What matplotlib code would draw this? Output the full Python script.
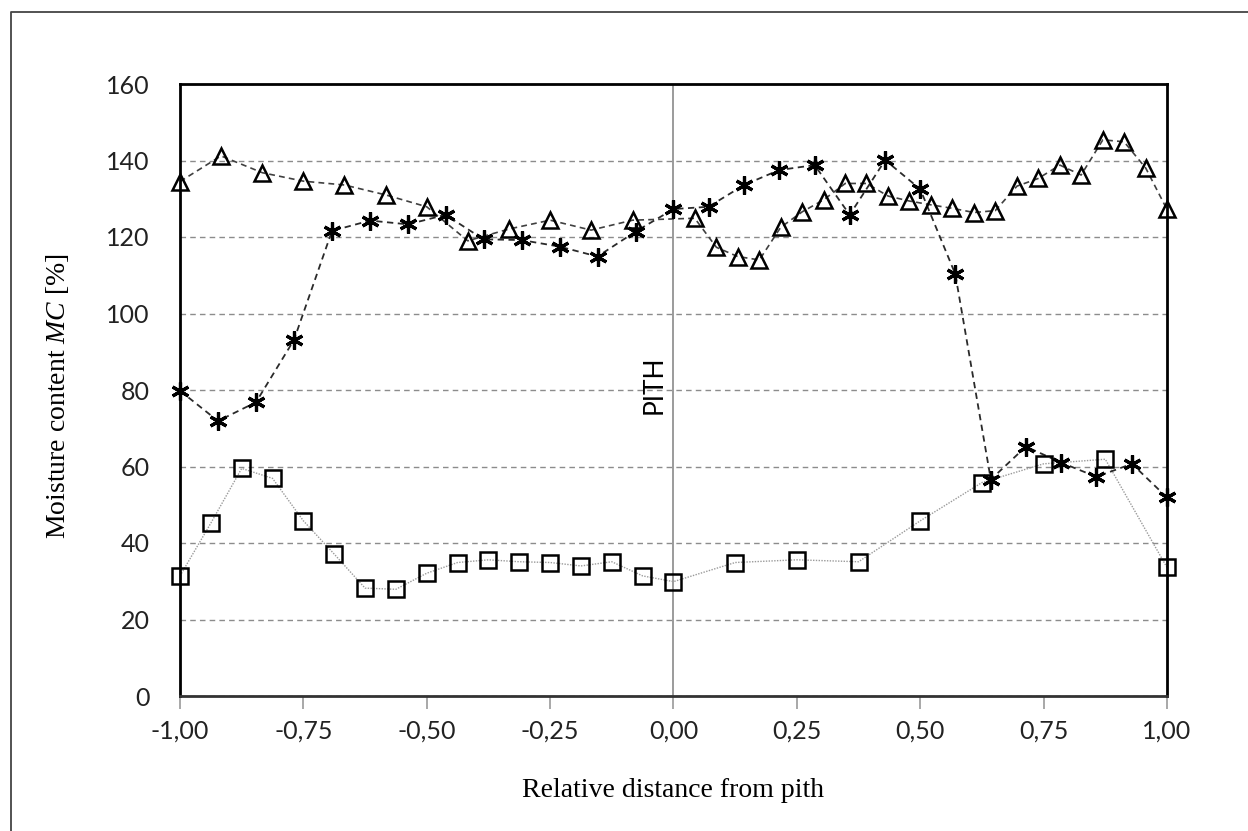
import numpy as np
import matplotlib
matplotlib.use('Agg')
import matplotlib.pyplot as plt
from matplotlib.lines import Line2D

plt.rcParams['mathtext.fontset'] = 'custom'
plt.rcParams['mathtext.rm'] = 'Liberation Serif'
plt.rcParams['mathtext.it'] = 'Liberation Serif:italic'

# squares
sq_x = [-1.0, -0.9375, -0.875, -0.8125, -0.75, -0.6875, -0.625, -0.5625, -0.5,
        -0.4375, -0.375, -0.3125, -0.25, -0.1875, -0.125, -0.0625, 0.0,
        0.125, 0.25, 0.375, 0.5, 0.625, 0.75, 0.875, 1.0]
sq_y = [31.4, 45.2, 59.5, 56.9, 45.8, 37.1, 28.2, 27.9, 32.1, 34.9, 35.6, 35.1,
        34.9, 34.0, 35.1, 31.4, 29.9, 34.9, 35.6, 35.1, 45.8, 55.8, 60.7, 61.9, 33.6]

# asterisks
st_x = [-1.0, -0.923, -0.846, -0.769, -0.692, -0.615, -0.538, -0.462, -0.385,
        -0.308, -0.231, -0.154, -0.077, 0.0, 0.071, 0.143, 0.214, 0.286, 0.357,
        0.429, 0.5, 0.571, 0.643, 0.714, 0.786, 0.857, 0.929, 1.0]
st_y = [79.8, 71.9, 76.8, 93.1, 121.6, 124.3, 123.3, 125.8, 119.4, 119.2, 117.5,
        114.9, 121.4, 127.3, 127.9, 133.6, 137.5, 138.8, 125.8, 140.1, 132.5,
        110.3, 56.6, 65.2, 61.0, 57.3, 60.7, 51.9]

# triangles
tr_x = [-1.0, -0.917, -0.833, -0.75, -0.667, -0.583, -0.5, -0.417, -0.333, -0.25,
        -0.167, -0.083, 0.043, 0.087, 0.13, 0.174, 0.217, 0.261, 0.304, 0.348,
        0.391, 0.435, 0.478, 0.522, 0.565, 0.609, 0.652, 0.696, 0.739, 0.783,
        0.826, 0.87, 0.913, 0.957, 1.0]
tr_y = [134.5, 141.2, 136.8, 134.6, 133.6, 131.0, 127.9, 119.0, 122.1, 124.4,
        121.8, 124.4, 124.9, 117.3, 114.9, 114.0, 122.5, 126.6, 129.7, 134.0,
        134.0, 130.7, 129.4, 128.4, 127.5, 126.4, 126.9, 133.3, 135.3, 138.8,
        136.2, 145.4, 144.9, 138.0, 127.2]

x_ticks = [-1.0, -0.75, -0.5, -0.25, 0.0, 0.25, 0.5, 0.75, 1.0]
x_labels = ['-1,00', '-0,75', '-0,50', '-0,25', '0,00', '0,25', '0,50', '0,75', '1,00']
y_ticks = [0, 20, 40, 60, 80, 100, 120, 140, 160]

fig = plt.figure(figsize=(12.48, 8.31), dpi=100)
W, H = 1248, 831
ax = fig.add_axes([180 / W, 1 - 696 / H, (1167 - 180) / W, (696 - 84) / H])

# outer frame of the picture
fig.add_artist(Line2D([11 / W, 11 / W, 1], [0, 1 - 12 / H, 1 - 12 / H],
                      transform=fig.transFigure, color='#444444', lw=1.3))

ax.axvline(0, color='#8a8a8a', lw=1.2, zorder=1)

ax.plot(sq_x, sq_y, color='#9a9a9a', lw=1.0, linestyle=(0, (1, 1)), zorder=2)
ax.plot(sq_x, sq_y, linestyle='none', marker='s', ms=11, mfc='none',
        mec='black', mew=1.8, zorder=4, clip_on=False)

ax.plot(tr_x, tr_y, color='#404040', lw=1.2, linestyle=(0, (3.5, 2.5)), zorder=2)
ax.plot(tr_x, tr_y, linestyle='none', marker='^', ms=11, mfc='none',
        mec='black', mew=1.8, zorder=4, clip_on=False)

ax.plot(st_x, st_y, color='#2a2a2a', lw=1.3, linestyle=(0, (3.5, 2.5)), zorder=3)
ax.plot(st_x, st_y, linestyle='none', marker=(6, 2, 0), ms=13,
        mec='black', mew=2.3, zorder=5, clip_on=False)

ax.text(-0.04, 81.5, 'PITH', rotation=90, ha='center', va='center',
        fontsize=19, family='Lato', color='black')

ax.set_xlim(-1, 1)
ax.set_ylim(0, 160)
ax.set_xticks(x_ticks)
ax.set_xticklabels(x_labels)
ax.set_yticks(y_ticks)
ax.yaxis.grid(True, linestyle=(0, (4, 3)), color='#8c8c8c', lw=1.0)
ax.set_axisbelow(True)

for lab in ax.get_xticklabels() + ax.get_yticklabels():
    lab.set_family('Lato')
    lab.set_fontsize(18)
    lab.set_color('#222222')
ax.tick_params(axis='x', direction='out', length=9, width=1.2, color='#999999', pad=8)
ax.tick_params(axis='y', length=0, pad=22)

for side in ['left', 'right', 'top']:
    ax.spines[side].set_linewidth(2.0)
    ax.spines[side].set_color('black')
ax.spines['bottom'].set_linewidth(2.0)
ax.spines['bottom'].set_color('#333333')

ax.set_xlabel('Relative distance from pith', family='Liberation Serif', fontsize=20)
ax.xaxis.label.set_va('center')
ax.xaxis.set_label_coords(0.5, -0.154)
ax.set_ylabel(r'Moisture content $\mathit{MC}$ [%]', family='Liberation Serif', fontsize=20)
ax.yaxis.label.set_va('center')
ax.yaxis.set_label_coords(-0.124, 0.49)

fig.savefig('out.png', dpi=100)
